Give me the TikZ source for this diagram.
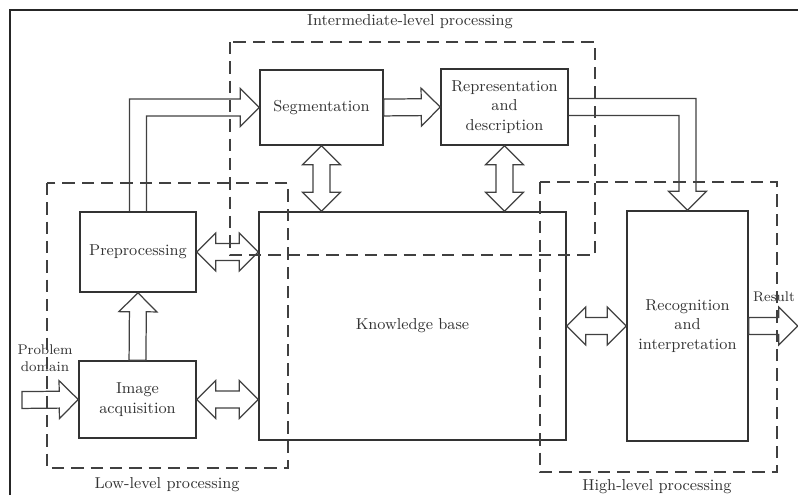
\documentclass[tikz,border=0pt]{standalone}
\usetikzlibrary{calc,positioning}

% block arrow sizes
\newcommand{\shaftw}{4.8pt}
\newcommand{\headw}{10.8pt}
\newcommand{\headl}{10.8pt}

% hollow block arrow from #1 (tail) to #2 (tip)
\newcommand{\blockarrow}[2]{%
  \draw[blockline] let \p1=($(#2)-(#1)$), \n1={atan2(\y1,\x1)}, \n2={veclen(\x1,\y1)} in
    [shift={(#1)}, rotate=\n1]
    (0pt,\shaftw) -- ({\n2-\headl},\shaftw) -- ({\n2-\headl},\headw) -- ({\n2+0pt},0pt)
    -- ({\n2-\headl},-\headw) -- ({\n2-\headl},-\shaftw) -- (0pt,-\shaftw) -- cycle;}

% hollow block arrow with a head at both ends
\newcommand{\dblockarrow}[2]{%
  \draw[blockline] let \p1=($(#2)-(#1)$), \n1={atan2(\y1,\x1)}, \n2={veclen(\x1,\y1)} in
    [shift={(#1)}, rotate=\n1]
    (0pt,0pt) -- (\headl,\headw) -- (\headl,\shaftw) -- ({\n2-\headl},\shaftw)
    -- ({\n2-\headl},\headw) -- ({\n2+0pt},0pt) -- ({\n2-\headl},-\headw)
    -- ({\n2-\headl},-\shaftw) -- (\headl,-\shaftw) -- (\headl,-\headw) -- cycle;}

\begin{document}
\begin{tikzpicture}[x=0.02cm, y=-0.02cm, font=\small, text=black!80,
    box/.style={rectangle, draw=black!80, line width=0.9pt, align=center, inner sep=2pt},
    blockline/.style={draw=black!75, line width=0.7pt},
    region/.style={draw=black!75, line width=0.9pt, dash pattern=on 7pt off 4pt},
    frame/.style={draw=black!85, line width=1.2pt}]
  \useasboundingbox (0,0) rectangle (798,495);
  \draw[frame] (10,495) -- (10,10) -- (798,10);

  \node[box, minimum width=2.46cm, minimum height=1.5cm] (seg) at (321.5,107.5) {Segmentation};
  \node[box, minimum width=2.54cm, minimum height=1.52cm] (rep) at (504.5,107) {Representation\\and\\description};
  \node[box, minimum width=2.32cm, minimum height=1.6cm] (pre) at (138,252) {Preprocessing};
  \node[box, minimum width=2.34cm, minimum height=1.54cm] (acq) at (137.5,399.5) {Image\\acquisition};
  \node[box, minimum width=6.14cm, minimum height=4.56cm] (kb) at (412.5,326) {Knowledge base};
  \node[box, minimum width=2.42cm, minimum height=4.6cm] (rec) at (687.5,326) {Recognition\\and\\interpretation};

  \node[align=center, font=\footnotesize] (prob) at (45,358) {Problem\\domain};
  \node[anchor=east, font=\footnotesize, inner sep=1pt] (res) at (797,297) {Result};
  \coordinate (probin) at (22,400);
  \path (rec.east) ++(49,0) coordinate (resout);

  % processing levels
  \draw[region] (230,42) rectangle (595,255);
  \draw[region] (47,183) rectangle (288,468);
  \draw[region] (540,182) rectangle (777,472);
  \node (inter) at (410,22) {Intermediate-level processing};
  \node (low) at (167,485) {Low-level processing};
  \node (high) at (657,487) {High-level processing};

  % arrows
  \blockarrow{probin}{acq.west}
  \blockarrow{acq.north}{pre.south}
  \blockarrow{seg.east}{rep.west}
  \blockarrow{rec.east}{resout}
  \dblockarrow{pre.east}{pre.east -| kb.west}
  \dblockarrow{acq.east}{acq.east -| kb.west}
  \dblockarrow{kb.east}{rec.west}
  \dblockarrow{seg.south}{seg.south |- kb.north}
  \dblockarrow{rep.south}{rep.south |- kb.north}
  \draw[blockline] ($(pre.north)+(-8.5,0)$) |- ($(seg.west)+(-19,-8.5)$) -- ++(0,-10.5)
    -- (seg.west) -- ($(seg.west)+(-19,19)$) -- ++(0,-10.5) -| ($(pre.north)+(8.5,0)$);
  \draw[blockline] ($(rep.east)+(0,-8.5)$) -| ($(rec.north)+(8.5,-19)$) -- ++(10.5,0)
    -- (rec.north) -- ($(rec.north)+(-19,-19)$) -- ++(10.5,0) |- ($(rep.east)+(0,8.5)$);
\end{tikzpicture}
\end{document}
